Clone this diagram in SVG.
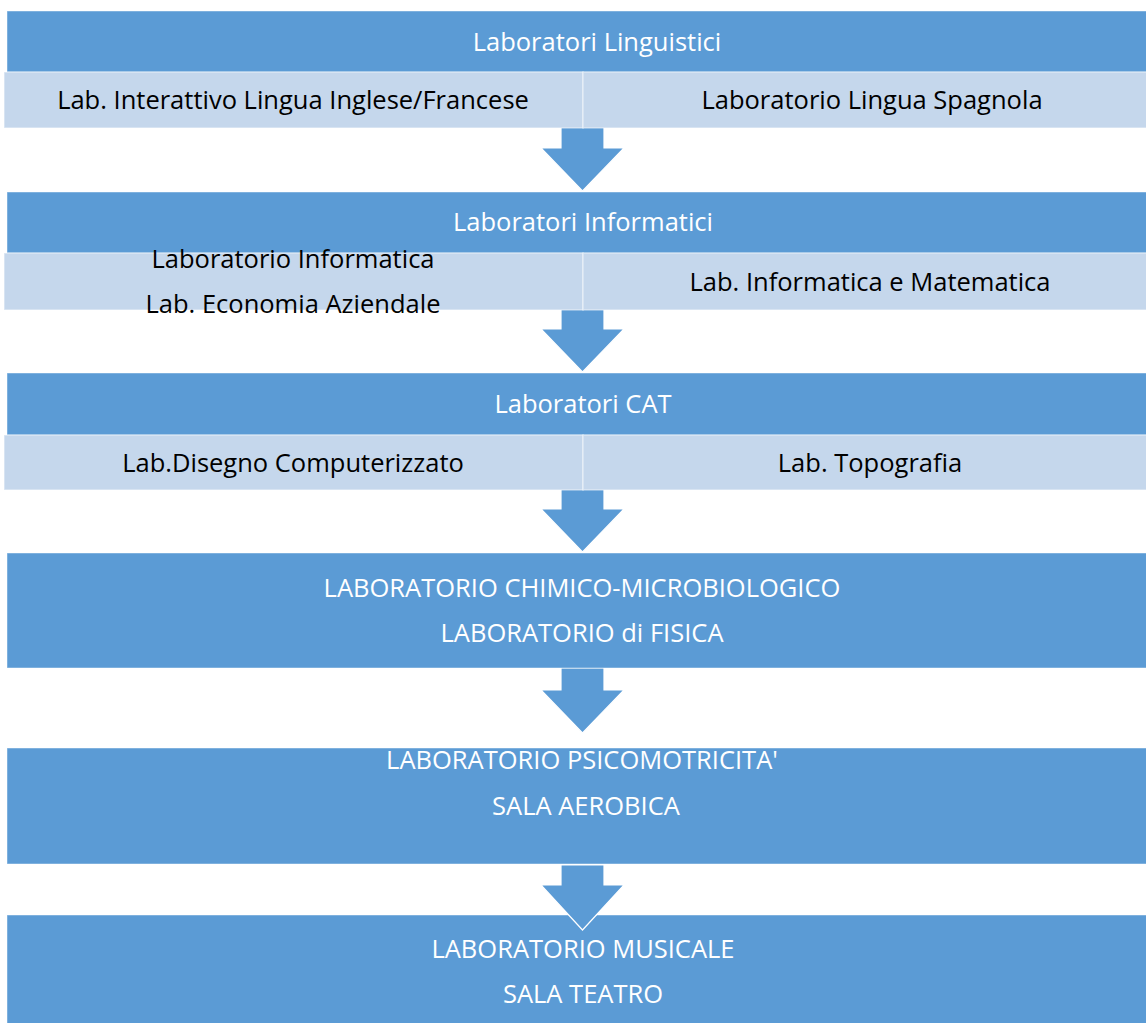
<svg xmlns="http://www.w3.org/2000/svg" width="1146" height="1023" viewBox="0 0 1146 1023">
<style>
.hdr{fill:#5B9BD5;stroke:#ffffff;stroke-opacity:0.45;stroke-width:1}
.sub{fill:#C5D7EC;stroke:#ffffff;stroke-opacity:0.45;stroke-width:1.5}
.arr{fill:#5B9BD5;stroke:#ffffff;stroke-width:1.2}
text{font-family:"Open Sans","Liberation Sans",sans-serif;text-anchor:middle;font-size:25.5px}
.tw{fill:#ffffff}
.tb{fill:#000000}
</style>
<rect width="1146" height="1023" fill="#ffffff"/>
<g id="connectors">
<polygon class="arr" points="561,126 604,126 604,148 624,148 582.5,191 541,148 561,148"/>
<polygon class="arr" points="561,308 604,308 604,329 624,329 582.5,372 541,329 561,329"/>
<polygon class="arr" points="561,488 604,488 604,509 624,509 582.5,552 541,509 561,509"/>
<polygon class="arr" points="561,668 604,668 604,690 624,690 582.5,733 541,690 561,690"/>
</g>
<g id="lab-linguistici">
<rect class="hdr" x="7" y="11" width="1180" height="61"/>
<text class="tw" x="597" y="51">Laboratori Linguistici</text>
</g>
<g id="lab-inglese-francese">
<rect class="sub" x="4" y="72" width="579" height="56"/>
<text class="tb" x="293" y="109">Lab. Interattivo Lingua Inglese/Francese</text>
</g>
<g id="lab-spagnola">
<rect class="sub" x="583" y="72" width="579" height="56"/>
<text class="tb" x="872" y="109">Laboratorio Lingua Spagnola</text>
</g>
<g id="lab-informatici">
<rect class="hdr" x="7" y="192" width="1180" height="61"/>
<text class="tw" x="583" y="231">Laboratori Informatici</text>
</g>
<g id="lab-informatica-economia">
<rect class="sub" x="4" y="253" width="579" height="57"/>
<text class="tb" x="293" y="268">Laboratorio Informatica</text>
<text class="tb" x="293" y="313">Lab. Economia Aziendale</text>
</g>
<g id="lab-informatica-matematica">
<rect class="sub" x="583" y="253" width="579" height="57"/>
<text class="tb" x="870" y="291">Lab. Informatica e Matematica</text>
</g>
<g id="lab-cat">
<rect class="hdr" x="7" y="373" width="1180" height="62"/>
<text class="tw" x="583" y="413">Laboratori CAT</text>
</g>
<g id="lab-disegno">
<rect class="sub" x="4" y="435" width="579" height="55"/>
<text class="tb" x="293" y="472">Lab.Disegno Computerizzato</text>
</g>
<g id="lab-topografia">
<rect class="sub" x="583" y="435" width="579" height="55"/>
<text class="tb" x="870" y="472">Lab. Topografia</text>
</g>
<g id="lab-chimico-fisica">
<rect class="hdr" x="7" y="553" width="1180" height="115"/>
<text class="tw" x="582" y="597">LABORATORIO CHIMICO-MICROBIOLOGICO</text>
<text class="tw" x="582" y="642">LABORATORIO di FISICA</text>
</g>
<g id="lab-psicomotricita">
<rect class="hdr" x="7" y="748" width="1180" height="116"/>
<text class="tw" x="582" y="769">LABORATORIO PSICOMOTRICITA'</text>
<text class="tw" x="586" y="815">SALA AEROBICA</text>
</g>
<g id="lab-musicale">
<rect class="hdr" x="7" y="915" width="1180" height="120"/>
<text class="tw" x="583" y="958">LABORATORIO MUSICALE</text>
<text class="tw" x="583" y="1003">SALA TEATRO</text>
</g>
<g id="connectors-over">
<polygon class="arr" points="561,865 604,865 604,885 624,885 582.5,930 541,885 561,885"/>
</g>
</svg>
